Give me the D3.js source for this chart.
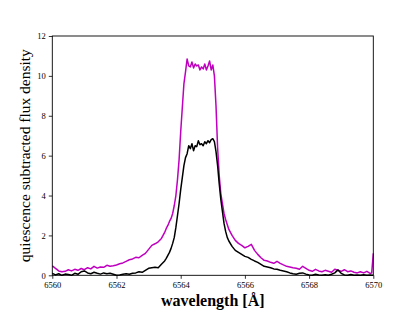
<!DOCTYPE html>
<html lang="en">

<head>
    <meta charset="UTF-8">
    <title>Quiescence subtracted flux density</title>
    <style>
        body { margin: 0; background: #fff; }
        svg { display: block; }
        .tick text { font-family: "Liberation Serif", "DejaVu Serif", serif; font-size: 8.5px; }
    </style>
</head>

<body>
    <script src="https://cdn.jsdelivr.net/npm/d3@7"></script>
    <script>
        const svg_w = 415;
        const svg_h = 311;

        // wavelength grid in Angstrom
        const wavelength = [
            6560.0, 6560.1, 6560.2, 6560.3, 6560.4, 6560.5, 6560.6, 6560.7, 6560.8, 6560.9,
            6561.0, 6561.1, 6561.2, 6561.3, 6561.4, 6561.5, 6561.6, 6561.7, 6561.8, 6561.9,
            6562.0, 6562.1, 6562.2, 6562.3, 6562.4, 6562.5, 6562.6, 6562.7, 6562.8, 6562.9,
            6563.0, 6563.1, 6563.2, 6563.3, 6563.4,
            6563.5, 6563.55, 6563.6, 6563.65, 6563.7, 6563.75, 6563.8, 6563.85, 6563.9, 6563.95,
            6564.0, 6564.05, 6564.1, 6564.15, 6564.2, 6564.25, 6564.3, 6564.35, 6564.4, 6564.45,
            6564.5, 6564.55, 6564.6, 6564.65, 6564.7, 6564.75, 6564.8, 6564.85, 6564.9, 6564.95,
            6565.0, 6565.05, 6565.1, 6565.15, 6565.2, 6565.25, 6565.3, 6565.35, 6565.4, 6565.45,
            6565.5, 6565.6, 6565.7, 6565.8, 6565.9,
            6566.0, 6566.1, 6566.2, 6566.3, 6566.4, 6566.5, 6566.6, 6566.7, 6566.8, 6566.9,
            6567.0, 6567.1, 6567.2, 6567.3, 6567.4, 6567.5, 6567.6, 6567.7, 6567.8, 6567.9,
            6568.0, 6568.1, 6568.2, 6568.3, 6568.4, 6568.5, 6568.6, 6568.7, 6568.8, 6568.9,
            6569.0, 6569.1, 6569.2, 6569.3, 6569.4, 6569.5, 6569.6, 6569.7, 6569.8, 6569.9,
            6569.95, 6570.0
        ];

        // magenta curve
        const flux_m = [
            0.47, 0.35, 0.22, 0.18, 0.20, 0.28, 0.22, 0.30, 0.25, 0.34,
            0.28, 0.38, 0.32, 0.45, 0.36, 0.42, 0.40, 0.50, 0.45, 0.48,
            0.52, 0.58, 0.62, 0.70, 0.78, 0.82, 0.90, 0.88, 1.00, 1.10,
            1.30, 1.50, 1.58, 1.68, 1.85,
            2.15, 2.35, 2.50, 2.70, 2.85, 3.10, 3.50, 4.00, 4.80, 5.80,
            7.20, 8.40, 9.60, 10.20, 10.85, 10.50, 10.45, 10.70, 10.40, 10.60,
            10.50, 10.55, 10.30, 10.45, 10.35, 10.60, 10.30, 10.50, 10.75, 10.30,
            10.55, 10.00, 8.50, 6.40, 5.00, 4.10, 3.60, 3.10, 2.80, 2.55,
            2.30, 2.00, 1.75, 1.60, 1.50,
            1.38, 1.45, 1.55, 1.25, 1.05, 0.88, 0.75, 0.72, 0.65, 0.60,
            0.70, 0.60, 0.52, 0.45, 0.42, 0.38, 0.35, 0.30, 0.45, 0.35,
            0.25, 0.20, 0.30, 0.22, 0.18, 0.25, 0.20, 0.15, 0.30, 0.25,
            0.20, 0.28, 0.18, 0.22, 0.15, 0.12, 0.18, 0.12, 0.20, 0.10,
            0.12, 1.10
        ];

        // black curve
        const flux_k = [
            0.10, 0.02, 0.08, 0.00, 0.06, 0.04, 0.00, 0.10, 0.05, 0.18,
            0.22, 0.12, 0.08, 0.15, 0.10, 0.06, 0.12, 0.08, 0.10, 0.05,
            0.00, 0.02, 0.05, 0.08, 0.05, 0.10, 0.12, 0.18, 0.15, 0.25,
            0.35, 0.38, 0.40, 0.38, 0.55,
            0.72, 0.85, 1.00, 1.15, 1.35, 1.60, 1.90, 2.40, 3.00, 3.60,
            4.30, 4.90, 5.50, 5.90, 6.10, 6.50, 6.35, 6.60, 6.25, 6.50,
            6.45, 6.75, 6.55, 6.60, 6.50, 6.70, 6.60, 6.75, 6.65, 6.80,
            6.85, 6.70, 6.20, 5.50, 4.60, 3.80, 3.20, 2.60, 2.20, 1.90,
            1.72, 1.45, 1.25, 1.15, 1.05,
            0.95, 0.90, 0.80, 0.72, 0.65, 0.55, 0.45, 0.42, 0.38, 0.32,
            0.30, 0.25, 0.22, 0.18, 0.12, 0.08, 0.05, 0.10, 0.12, 0.06,
            0.02, 0.00, 0.05, 0.02, 0.00, 0.03, 0.00, 0.05, 0.12, 0.27,
            0.10, 0.02, 0.00, 0.04, 0.00, 0.02, 0.00, 0.03, 0.00, 0.02,
            0.00, 0.00
        ];

        const x_ticks = [6560, 6562, 6564, 6566, 6568, 6570];
        const y_ticks = [0, 2, 4, 6, 8, 10, 12];

        const plot_l = 52.3, plot_r = 373.3, plot_t = 36, plot_b = 275.3;

        const svg = d3.select('body')
            .append('svg')
            .attr('width', svg_w)
            .attr('height', svg_h);

        const x = d3.scaleLinear().domain([6560, 6570]).range([plot_l, plot_r]);
        const y = d3.scaleLinear().domain([0, 12]).range([plot_b, plot_t]);

        const line = d3.line()
            .x((d, i) => x(wavelength[i]))
            .y(d => y(d));

        svg.append('path')
            .datum(flux_m)
            .attr('d', line)
            .attr('fill', 'none')
            .attr('stroke', '#bf00bf')
            .attr('stroke-width', 1.5)
            .attr('stroke-linejoin', 'round');

        svg.append('path')
            .datum(flux_k)
            .attr('d', line)
            .attr('fill', 'none')
            .attr('stroke', '#000')
            .attr('stroke-width', 1.5)
            .attr('stroke-linejoin', 'round');

        // frame
        svg.append('rect')
            .attr('x', plot_l)
            .attr('y', plot_t)
            .attr('width', plot_r - plot_l)
            .attr('height', plot_b - plot_t)
            .attr('fill', 'none')
            .attr('stroke', '#000')
            .attr('stroke-width', 0.9);

        const xAxis = svg.append('g')
            .attr('transform', `translate(0,${plot_b})`)
            .call(d3.axisBottom(x).tickValues(x_ticks).tickFormat(d3.format('d')).tickSize(3.5).tickPadding(3));
        xAxis.select('.domain').remove();

        const yAxis = svg.append('g')
            .attr('transform', `translate(${plot_l},0)`)
            .call(d3.axisLeft(y).tickValues(y_ticks).tickFormat(d3.format('d')).tickSize(3.5).tickPadding(3));
        yAxis.select('.domain').remove();

        svg.selectAll('.tick line').attr('stroke-width', 0.8);

        svg.append('text')
            .attr('x', (plot_l + plot_r) / 2)
            .attr('y', 306)
            .attr('text-anchor', 'middle')
            .style('font-family', '"Liberation Serif", "DejaVu Serif", serif')
            .style('font-weight', 'bold')
            .style('font-size', '16px')
            .text('wavelength [Å]');

        svg.append('text')
            .attr('transform', `translate(30,${(plot_t + plot_b) / 2}) rotate(-90)`)
            .attr('text-anchor', 'middle')
            .style('font-family', '"Liberation Serif", "DejaVu Serif", serif')
            .style('font-size', '15.5px')
            .text('quiescence subtracted flux density');
    </script>
</body>

</html>
